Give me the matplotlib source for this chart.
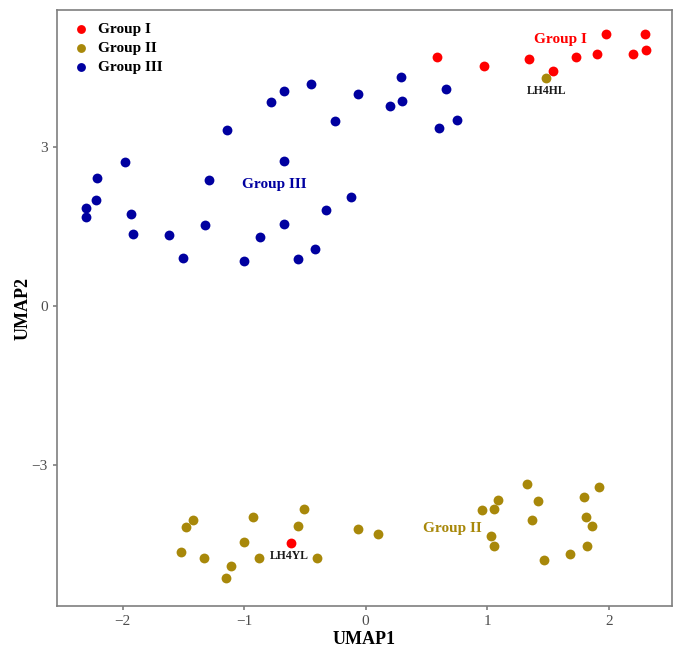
import numpy as np
import matplotlib
matplotlib.use('Agg')
import matplotlib.pyplot as plt

plt.rcParams['font.family'] = ['Liberation Serif', 'DejaVu Serif']

# group I (red)
g1_x = [0.59, 0.97, 1.34, 1.54, 1.73, 1.90, 1.98, 2.20, 2.30, 2.31, -0.61]
g1_y = [4.70, 4.52, 4.65, 4.43, 4.69, 4.75, 5.13, 4.75, 5.13, 4.82, -4.47]

# group II (olive)
g2_x = [1.48, -1.52, -1.48, -1.42, -1.33, -1.15, -1.11, -1.00, -0.93, -0.88,
        -0.56, -0.51, -0.40, -0.06, 0.10, 0.96, 1.06, 1.09, 1.03, 1.06,
        1.33, 1.42, 1.37, 1.47, 1.68, 1.80, 1.92, 1.81, 1.86, 1.82]
g2_y = [4.30, -4.63, -4.16, -4.04, -4.75, -5.13, -4.91, -4.45, -3.98, -4.75,
        -4.15, -3.83, -4.75, -4.20, -4.29, -3.84, -3.82, -3.66, -4.33, -4.53,
        -3.35, -3.67, -4.04, -4.78, -4.67, -3.60, -3.41, -3.97, -4.15, -4.53]

# group III (blue)
g3_x = [-0.45, -0.67, -0.78, -1.14, -0.25, -1.98, -0.67, -2.21, -1.29, -2.22,
        -2.30, -2.30, -1.93, -0.33, -0.67, -1.32, -0.12, -1.91, -1.62, -1.50,
        -1.00, -0.87, -0.56, -0.42, 0.29, -0.06, 0.20, 0.30, 0.66, 0.60, 0.75]
g3_y = [4.19, 4.06, 3.85, 3.32, 3.49, 2.71, 2.74, 2.41, 2.38, 1.99,
        1.84, 1.68, 1.74, 1.81, 1.55, 1.52, 2.06, 1.35, 1.33, 0.90,
        0.84, 1.30, 0.89, 1.07, 4.31, 3.99, 3.76, 3.87, 4.08, 3.35, 3.50]

red = '#FF0000'
olive = '#A8880A'
blue = '#0000A0'
grey = '#7F7F7F'

fig = plt.figure(figsize=(6.85, 6.59), dpi=100)
ax = fig.add_axes([0.083, 0.080, 0.898, 0.905])

ax.scatter(g1_x, g1_y, s=50, color=red, label='Group I', zorder=3, linewidths=0)
ax.scatter(g2_x, g2_y, s=50, color=olive, label='Group II', zorder=3, linewidths=0)
ax.scatter(g3_x, g3_y, s=50, color=blue, label='Group III', zorder=3, linewidths=0)

# group labels
ax.text(1.60, 5.02, 'Group I', color=red, fontsize=11, fontweight='bold', ha='center', va='center')
ax.text(0.71, -4.20, 'Group II', color=olive, fontsize=11, fontweight='bold', ha='center', va='center')
ax.text(-0.75, 2.28, 'Group III', color=blue, fontsize=11, fontweight='bold', ha='center', va='center')
ax.text(1.49, 4.06, 'LH4HL', color='#1A1A1A', fontsize=8.5, fontweight='bold', ha='center', va='center')
ax.text(-0.63, -4.71, 'LH4YL', color='#1A1A1A', fontsize=8.5, fontweight='bold', ha='center', va='center')

ax.set_xlim(-2.54, 2.52)
ax.set_ylim(-5.66, 5.58)
ax.set_xticks([-2, -1, 0, 1, 2])
ax.set_yticks([-3, 0, 3])
ax.set_xticklabels(['\u22122', '\u22121', '0', '1', '2'])
ax.set_yticklabels(['\u22123', '0', '3'])
ax.tick_params(colors=grey, labelcolor='#4D4D4D', labelsize=11, length=3, width=1.2)
for sp in ax.spines.values():
    sp.set_color(grey)
    sp.set_linewidth(1.2)

ax.set_xlabel('UMAP1', fontsize=13, fontweight='bold', labelpad=2)
ax.set_ylabel('UMAP2', fontsize=13, fontweight='bold', labelpad=0)

leg = ax.legend(loc='upper left', frameon=False, prop={'weight': 'bold', 'size': 11},
                handletextpad=0.4, borderaxespad=0.2, borderpad=0.6, labelspacing=0.35,
                markerscale=0.9, handlelength=1.5)

fig.savefig('out.png', dpi=100)
